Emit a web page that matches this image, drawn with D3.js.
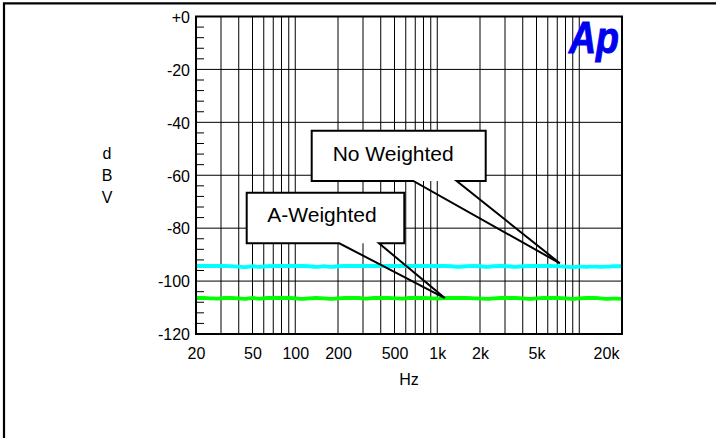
<!DOCTYPE html>
<html>
<head>
<meta charset="utf-8">
<script src="https://cdn.jsdelivr.net/npm/d3@7"></script>
<style>
  html, body { margin: 0; padding: 0; background: #fff; }
  svg { display: block; }
  text { font-family: Arial, "Liberation Sans", sans-serif; fill: #000; }
</style>
</head>
<body>
<svg id="chart" width="716" height="438"></svg>
<script>
// ---- data ----
const freqs = [20, 22.4, 25, 28, 31.5, 35.5, 40, 45, 50, 56, 63, 71, 80, 90,
  100, 112, 125, 140, 160, 180, 200, 224, 250, 280, 315, 355, 400, 450, 500, 560,
  630, 710, 800, 900, 1000, 1120, 1250, 1400, 1600, 1800, 2000, 2240, 2500, 2800,
  3150, 3550, 4000, 4500, 5000, 5600, 6300, 7100, 8000, 9000, 10000, 11200, 12500,
  14000, 16000, 18000, 20000];

const noWeighted = [-94.3, -94.3, -94.3, -94.3, -94.3, -94.4, -94.5, -94.7, -94.4, -94.6, -94.4, -94.3, -94.3, -94.3,
  -94.3, -94.3, -94.4, -94.6, -94.4, -94.6, -94.4, -94.3, -94.3, -94.3, -94.3, -94.3, -94.3, -94.3, -94.3, -94.3,
  -94.3, -94.3, -94.3, -94.3, -94.3, -94.3, -94.4, -94.6, -94.4, -94.3, -94.4, -94.6, -94.4, -94.3,
  -94.4, -94.6, -94.4, -94.3, -94.3, -94.3, -94.3, -94.4, -94.5, -94.7, -94.5, -94.6, -94.5,
  -94.6, -94.5, -94.4, -94.4];

const aWeighted = [-106.4, -106.4, -106.5, -106.6, -106.4, -106.4, -106.5, -106.7, -106.4, -106.6, -106.4, -106.4, -106.4, -106.4,
  -106.5, -106.7, -106.5, -106.4, -106.5, -106.7, -106.5, -106.4, -106.4, -106.4, -106.6, -106.4, -106.4, -106.4, -106.5, -106.6,
  -106.4, -106.4, -106.4, -106.5, -106.6, -106.4, -106.4, -106.4, -106.4, -106.5, -106.6, -106.7, -106.5, -106.4,
  -106.4, -106.4, -106.5, -106.7, -106.5, -106.4, -106.4, -106.4, -106.5, -106.7, -106.5, -106.4, -106.4,
  -106.5, -106.7, -106.6, -106.7];

const gridFreqs = [30, 40, 50, 60, 70, 80, 90, 100, 200, 300, 400, 500, 600, 700, 800, 900,
  1000, 2000, 3000, 4000, 5000, 6000, 7000, 8000, 9000, 10000];
const xTickValues = [20, 50, 100, 200, 500, 1000, 2000, 5000, 20000];
const xTickLabels = ["20", "50", "100", "200", "500", "1k", "2k", "5k", "20k"];
const yTickValues = [0, -20, -40, -60, -80, -100, -120];
const yTickLabels = ["+0", "-20", "-40", "-60", "-80", "-100", "-120"];
const yMinorTicks = [-4, -8, -12, -16, -24, -28, -32, -36, -44, -48, -52, -56, -64, -68, -72, -76,
  -84, -88, -92, -96, -104, -108, -112, -116];
const yLabelChars = ["d", "B", "V"];
const xTitle = "Hz";
const callouts = [
  { label: "No Weighted", tipFreq: 7300, tipValue: -94.4 },
  { label: "A-Weighted", tipFreq: 1130, tipValue: -106.4 }
];

// ---- layout ----
const L = 196, R = 622, T = 16.5, B = 334;
const svg = d3.select("#chart");
const x = d3.scaleLog().domain([20, 20000]).range([L, R]);
const y = d3.scaleLinear().domain([-120, 0]).range([B, T]);

// outer frame (top & left only visible)
svg.append("path").attr("d", `M4,438 V3.3 H716`).attr("fill", "none")
  .attr("stroke", "#000").attr("stroke-width", 2.2);

// grid
const g = svg.append("g");
g.selectAll("line.vg").data(gridFreqs).join("line")
  .attr("x1", d => x(d)).attr("x2", d => x(d)).attr("y1", T).attr("y2", B)
  .attr("stroke", "#000").attr("stroke-width", 1);
g.selectAll("line.hg").data(yTickValues.filter(v => v > -120 && v < 0)).join("line")
  .attr("x1", L).attr("x2", R).attr("y1", d => y(d)).attr("y2", d => y(d))
  .attr("stroke", "#000").attr("stroke-width", 1);
g.selectAll("line.mt").data(yMinorTicks).join("line")
  .attr("x1", L).attr("x2", L + 8).attr("y1", d => y(d)).attr("y2", d => y(d))
  .attr("stroke", "#000").attr("stroke-width", 1);

// traces
const line = d3.line().x(d => x(d[0])).y(d => y(d[1])).curve(d3.curveMonotoneX);
svg.append("path").datum(freqs.map((f, i) => [f, noWeighted[i]]))
  .attr("d", line).attr("fill", "none").attr("stroke", "#00ffff").attr("stroke-width", 3.8);
svg.append("path").datum(freqs.map((f, i) => [f, aWeighted[i]]))
  .attr("d", line).attr("fill", "none").attr("stroke", "#00ff00").attr("stroke-width", 3.8);

// callouts
const boxes = [
  { x0: 311.7, y0: 130.7, x1: 485.7, y1: 181, b0: 413.3, b1: 456.7, tdy: -3, tx: 332.7, ty: 160.7 },
  { x0: 246.7, y0: 192.7, x1: 404.3, y1: 243.3, b0: 339.3, b1: 379, tdy: 0, tx: 267.3, ty: 222.3 }
];
callouts.forEach((c, i) => {
  const b = boxes[i];
  const tipX = x(c.tipFreq), tipY = y(c.tipValue) + b.tdy;
  svg.append("rect").attr("x", b.x0).attr("y", b.y0).attr("width", b.x1 - b.x0)
    .attr("height", b.y1 - b.y0).attr("fill", "#fff");
  svg.append("path")
    .attr("d", `M${b.b0},${b.y1} H${b.x0} V${b.y0} H${b.x1} V${b.y1} H${b.b1} L${tipX},${tipY} Z`)
    .attr("fill", "none").attr("stroke", "#000").attr("stroke-width", 2)
    .attr("stroke-linejoin", "miter");
  svg.append("text").attr("x", b.tx).attr("y", b.ty).attr("font-size", 21).text(c.label);
});

// plot frame
svg.append("rect").attr("x", L).attr("y", T).attr("width", R - L).attr("height", B - T)
  .attr("fill", "none").attr("stroke", "#000").attr("stroke-width", 2);

// axes labels
const yAxis = d3.axisLeft(y).tickValues(yTickValues)
  .tickFormat((d, i) => yTickLabels[i]).tickSize(0).tickPadding(6);
const ya = svg.append("g").attr("transform", `translate(${L},0)`).call(yAxis);
ya.select(".domain").remove();
ya.selectAll("text").attr("font-size", 16).attr("font-family", "Arial, 'Liberation Sans', sans-serif")
  .attr("fill", "#000").attr("dy", "0.36em");

const xAxis = d3.axisBottom(x).tickValues(xTickValues)
  .tickFormat((d, i) => xTickLabels[i]).tickSize(0).tickPadding(0);
const xa = svg.append("g").attr("transform", `translate(0,${B})`).call(xAxis);
xa.select(".domain").remove();
xa.selectAll("text").attr("font-size", 16).attr("font-family", "Arial, 'Liberation Sans', sans-serif")
  .attr("fill", "#000").attr("dy", null).attr("y", 25)
  .attr("x", d => d === 20000 ? -16 : 0);

// axis titles
svg.selectAll("text.ylab").data(yLabelChars).join("text").attr("class", "ylab")
  .attr("x", 107).attr("y", (d, i) => 159 + i * 22).attr("text-anchor", "middle")
  .attr("font-size", 16).text(d => d);
svg.append("text").attr("x", 409).attr("y", 385).attr("text-anchor", "middle")
  .attr("font-size", 16).text(xTitle);

// Ap logo
svg.append("text").attr("x", 569).attr("y", 52.5).attr("font-size", 44)
  .attr("font-weight", "bold").attr("font-style", "italic")
  .attr("textLength", 50).attr("lengthAdjust", "spacingAndGlyphs")
  .style("fill", "#0000f0").style("stroke", "#0000f0").style("stroke-width", 1)
  .text("Ap");
</script>
</body>
</html>
